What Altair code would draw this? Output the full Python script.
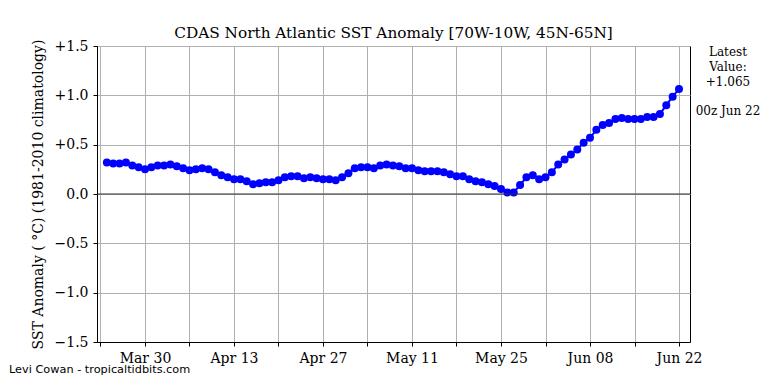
import altair as alt
import pandas as pd

start_date = "2023-03-24"
values = [
    0.32, 0.31, 0.31, 0.32, 0.29, 0.27, 0.25, 0.27, 0.29, 0.29,
    0.30, 0.28, 0.26, 0.24, 0.25, 0.26, 0.25, 0.22, 0.19, 0.17,
    0.15, 0.15, 0.13, 0.10, 0.11, 0.12, 0.12, 0.14, 0.17, 0.18,
    0.18, 0.16, 0.17, 0.16, 0.15, 0.15, 0.14, 0.17, 0.21, 0.26,
    0.27, 0.27, 0.26, 0.29, 0.30, 0.29, 0.28, 0.26, 0.26, 0.24,
    0.23, 0.23, 0.23, 0.22, 0.20, 0.18, 0.18, 0.15, 0.13, 0.12,
    0.10, 0.08, 0.05, 0.015, 0.015, 0.09, 0.17, 0.19, 0.15, 0.17,
    0.22, 0.30, 0.35, 0.40, 0.45, 0.52, 0.57, 0.65, 0.70, 0.72,
    0.76, 0.77, 0.76, 0.76, 0.76, 0.78, 0.78, 0.81, 0.90, 0.986,
    1.065,
]
y_ticks = [-1.5, -1.0, -0.5, 0.0, 0.5, 1.0, 1.5]
annotation_lines = ["Latest", "Value:", "+1.065", "00z Jun 22"]
credit_text = "Levi Cowan - tropicaltidbits.com"

dates = pd.date_range(start_date, periods=len(values), freq="D", tz="UTC")
df = pd.DataFrame({"date": dates.strftime("%Y-%m-%dT%H:%M:%SZ"), "anom": values})

DAY = 86400000
t_first_tick = int(pd.Timestamp("2023-03-23", tz="UTC").value // 10**6)
tick_vals = [t_first_tick + 7 * DAY * i for i in range(14)]
dom = [t_first_tick - int(0.55 * DAY), t_first_tick + 13 * 7 * DAY + int(1.73 * DAY)]

font = "DejaVu Serif"

x = alt.X(
    "date:T",
    scale=alt.Scale(type="utc", domain=dom),
    axis=alt.Axis(
        values=tick_vals,
        labelExpr=f"(round((datum.value - {t_first_tick})/{7*DAY}) % 2 == 1) ? utcFormat(datum.value, '%b %d') : ''",
        title=None,
        labelFont=font,
        labelPadding=5,
        labelFlush=False,
        labelOverlap=False,
    ),
)
y = alt.Y(
    "anom:Q",
    scale=alt.Scale(domain=[-1.5, 1.5], nice=False),
    axis=alt.Axis(
        values=y_ticks,
        labelExpr="datum.value > 0 ? '+' + format(datum.value, '.1f') : format(datum.value, '.1f')",
        title="SST Anomaly ( \u00b0C) (1981-2010 climatology)",
        titleFont=font,
        labelFont=font,
        titleX=-59,
        titleY=148,
        titleBaseline="middle",
        titleAlign="center",
        labelPadding=5,
        labelFlush=False,
    ),
)

base = alt.Chart(df)
zero = alt.Chart(pd.DataFrame({"z": [0.0]})).mark_rule(color="#333333", strokeWidth=1.2).encode(
    y=alt.Y("z:Q", scale=alt.Scale(domain=[-1.5, 1.5], nice=False))
)
line = base.mark_line(color="#0000ff", strokeWidth=2).encode(x=x, y=y)
pts = base.mark_point(filled=True, color="#0000ff", size=64, opacity=1).encode(x=x, y=y)

ann = alt.Chart(pd.DataFrame({"t": annotation_lines, "yy": [6, 21, 36, 65]})).mark_text(
    font=font, fontSize=12, color="black", align="center", baseline="middle"
).encode(text="t:N", x=alt.value(631), y=alt.Y("yy:Q", scale=None))

credit = alt.Chart(pd.DataFrame({"t": [credit_text]})).mark_text(
    font="DejaVu Sans", fontSize=11.3, color="black", align="left", baseline="middle"
).encode(text="t:N", x=alt.value(-88), y=alt.value(324))

chart = alt.layer(line, pts, zero, ann, credit).properties(
    width=593,
    height=296,
    autosize=alt.AutoSizeParams(type="none"),
    padding={"left": 89, "top": 38, "right": 70, "bottom": 40},
    title=alt.TitleParams(
        "CDAS North Atlantic SST Anomaly [70W-10W, 45N-65N]",
        font=font, fontSize=15.3, fontWeight="normal", color="black", offset=-2,
    ),
).configure(
    style={
        "guide-label": {"font": font, "fontSize": 14},
        "guide-title": {"font": font, "fontSize": 14},
    }
).configure_view(stroke="black", strokeWidth=1).configure_axis(
    labelFont=font,
    labelFontSize=14,
    labelColor="black",
    titleFont=font,
    titleFontSize=14,
    titleFontWeight="normal",
    titleColor="black",
    grid=True,
    gridColor="#b0b0b0",
    gridWidth=1,
    domainColor="black",
    tickColor="black",
    tickSize=4,
)

chart.save("out.html", embed_options={"renderer": "svg", "actions": False})
